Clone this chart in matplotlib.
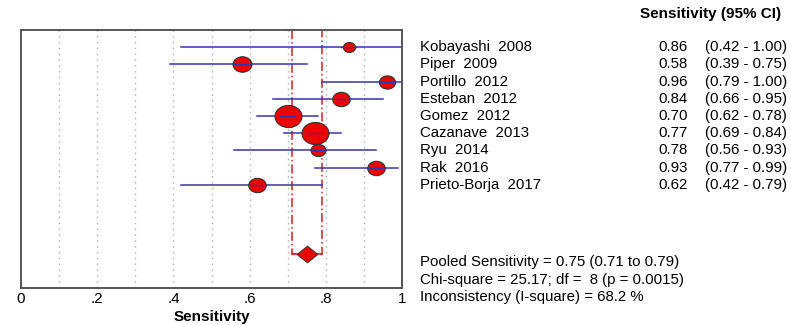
#!/usr/bin/env python3
# forest plot of per-study sensitivity with pooled estimate
import matplotlib.pyplot as plt
import matplotlib.transforms as mtransforms
from matplotlib.path import Path

plt.rcParams['font.family'] = ['Liberation Sans', 'DejaVu Sans']

studies = ['Kobayashi  2008', 'Piper  2009', 'Portillo  2012', 'Esteban  2012',
           'Gomez  2012', 'Cazanave  2013', 'Ryu  2014', 'Rak  2016',
           'Prieto-Borja  2017']
sens = [0.86, 0.58, 0.96, 0.84, 0.70, 0.77, 0.78, 0.93, 0.62]
ci_lo = [0.42, 0.39, 0.79, 0.66, 0.62, 0.69, 0.56, 0.77, 0.42]
ci_hi = [1.00, 0.75, 1.00, 0.95, 0.78, 0.84, 0.93, 0.99, 0.79]
# relative study weights (marker size)
weights = [9, 14, 12, 13, 20, 20, 11, 13, 13]

pooled = 0.75
pooled_lo = 0.71
pooled_hi = 0.79
stats_lines = ['Pooled Sensitivity = 0.75 (0.71 to 0.79)',
               'Chi-square = 25.17; df =  8 (p = 0.0015)',
               'Inconsistency (I-square) = 68.2 %']

xticks = [0, 0.2, 0.4, 0.6, 0.8, 1.0]
xticklabels = ['0', '.2', '.4', '.6', '.8', '1']

# squashed markers: ellipse for studies, flat diamond for pooled
circ = Path.unit_circle()
ellipse = Path(circ.vertices * [1.0, 0.82], circ.codes)
diamond = Path([(-1, 0), (0, 0.8), (1, 0), (0, -0.8), (-1, 0)],
               [Path.MOVETO, Path.LINETO, Path.LINETO, Path.LINETO,
                Path.CLOSEPOLY])

fig = plt.figure(figsize=(7.91, 3.25), dpi=100)
ax = fig.add_axes([0.0265, 0.114, 0.482, 0.794])
ax.set_xlim(0, 1)
ax.set_ylim(15, 0)

rows = list(range(1, len(studies) + 1))
pooled_row = 13

# dotted grid
for g in [0.1, 0.2, 0.3, 0.4, 0.5, 0.6, 0.7, 0.8, 0.9]:
    ax.axvline(g, color='#b8b8b8', ls=(0, (1.2, 3)), lw=1.0, zorder=0)

# pooled CI bracket
ax.plot([pooled_lo, pooled_lo, pooled_hi, pooled_hi],
        [0, pooled_row, pooled_row, 0], color='#cc2222', lw=1.1,
        ls=(0, (6, 2, 1, 2)), zorder=1)
ax.plot([pooled_lo, pooled_hi], [pooled_row, pooled_row], color='#cc2222',
        lw=1.1, zorder=1)

for r, s, lo, hi, w in zip(rows, sens, ci_lo, ci_hi, weights):
    ax.plot([lo, hi], [r, r], color='#3535a5', lw=1.1, zorder=2)
    ax.plot(s, r, marker=ellipse, ms=w * 0.97, mfc='#ee0000', mec='#333333',
            mew=0.8, zorder=3)
    ax.plot([s - 0.02, s + 0.02], [r, r], color='#3535a5', lw=1.0, zorder=4)

ax.plot(pooled, pooled_row, marker=diamond, ms=15, mfc='#ee0000',
        mec='#333333', mew=0.7, zorder=3)

ax.set_xticks(xticks)
ax.set_xticklabels(xticklabels, fontsize=11)
ax.tick_params(axis='x', length=0, pad=3)
ax.set_yticks([])
ax.set_xlabel('Sensitivity', fontsize=11, fontweight='bold', labelpad=3)
for sp in ax.spines.values():
    sp.set_color('#555555')
    sp.set_linewidth(1.4)

# right-hand text table
fs = 10.8
trans = mtransforms.blended_transform_factory(fig.transFigure, ax.transData)
ax.text(640 / 791, -0.9, 'Sensitivity (95% CI)', transform=trans,
        fontsize=11, fontweight='bold', va='center', clip_on=False)
for r, name, s, lo, hi in zip(rows, studies, sens, ci_lo, ci_hi):
    ax.text(420 / 791, r, name, transform=trans, fontsize=fs,
            va='center', clip_on=False)
    ax.text(658 / 791, r, '%.2f' % s, transform=trans, fontsize=fs,
            va='center', clip_on=False)
    ax.text(705 / 791, r, '(%.2f - %.2f)' % (lo, hi), transform=trans,
            fontsize=fs, va='center', clip_on=False)

for i, line in enumerate(stats_lines):
    ax.text(420 / 791, 13.5 + i * 1.02, line, transform=trans, fontsize=fs,
            va='center', clip_on=False)

fig.savefig('out.png', dpi=100)
